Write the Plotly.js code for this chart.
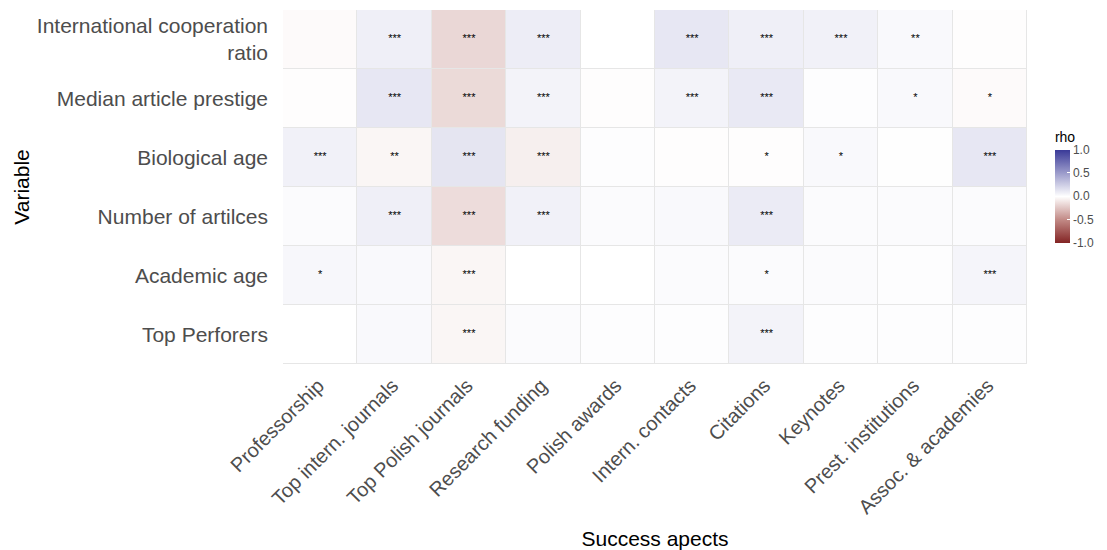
<!DOCTYPE html>
<html><head><meta charset="utf-8">
<script src="https://cdn.plot.ly/plotly-3.0.1.min.js"></script>
<style>html,body{margin:0;padding:0;background:#fff}#chart{width:1107px;height:550px}</style>
</head><body><div id="chart"></div>
<script>
const aspects = ["Professorship","Top intern. journals","Top Polish journals","Research funding","Polish awards","Intern. contacts","Citations","Keynotes","Prest. institutions","Assoc. & academies"];
const variables = ["Top Perforers","Academic age","Number of artilces","Biological age","Median article prestige","International cooperation<br>ratio"];
// rho values, rows in the same order as variables (bottom to top)
const rhoTopPerformers = [0.00, 0.03, -0.04, 0.02, 0.01, 0.01, 0.06, 0.01, 0.01, 0.01];
const rhoAcademicAge   = [0.04, 0.03, -0.04, 0.00, 0.00, 0.02, 0.02, 0.02, 0.01, 0.05];
const rhoArticles      = [0.02, 0.08, -0.15, 0.07, 0.02, 0.03, 0.10, 0.02, 0.02, 0.02];
const rhoBioAge        = [0.07, -0.04, 0.13, -0.07, 0.01, -0.01, -0.01, 0.03, 0.005, 0.12];
const rhoPrestige      = [-0.01, 0.12, -0.16, 0.06, -0.01, 0.06, 0.11, 0.01, 0.03, -0.02];
const rhoIntCoop       = [-0.02, 0.08, -0.17, 0.09, 0.00, 0.12, 0.08, 0.07, 0.03, -0.01];
const sigTopPerformers = ["","","***","","","","***","","",""];
const sigAcademicAge   = ["*","","***","","","","*","","","***"];
const sigArticles      = ["","***","***","***","","","***","","",""];
const sigBioAge        = ["***","**","***","***","","","*","*","","***"];
const sigPrestige      = ["","***","***","***","","***","***","","*","*"];
const sigIntCoop       = ["","***","***","***","","***","***","***","**",""];

const z = [rhoTopPerformers, rhoAcademicAge, rhoArticles, rhoBioAge, rhoPrestige, rhoIntCoop];
const sig = [sigTopPerformers, sigAcademicAge, sigArticles, sigBioAge, sigPrestige, sigIntCoop];

const tx = [], ty = [], tt = [];
for (let i = 0; i < variables.length; i++) for (let j = 0; j < aspects.length; j++) {
  if (sig[i][j]) { tx.push(aspects[j]); ty.push(variables[i]); tt.push(sig[i][j]); }
}

const heat = {
  type: 'heatmap', x: aspects, y: variables, z: z, zmin: -1, zmax: 1,
  xgap: 1, ygap: 1, hoverinfo: 'x+y+z',
  colorscale: [[0, '#832424'], [0.25, '#C28A86'], [0.5, '#FFFFFF'], [0.75, '#9C9CCB'], [1, '#3A3A98']],
  colorbar: {
    title: {text: 'rho', side: 'top', font: {family: 'Liberation Sans, Arial', size: 14, color: '#000'}},
    x: 1.0375, xanchor: 'left', y: 0.665, yanchor: 'top', xpad: 0, ypad: 0,
    len: 114, lenmode: 'pixels', thickness: 15, outlinewidth: 0,
    tickvals: [-1, -0.5, 0, 0.5, 1], ticktext: ['-1.0', '-0.5', '0.0', '0.5', '1.0'],
    ticks: 'inside', ticklen: 3, tickcolor: '#fff',
    tickfont: {family: 'Liberation Sans, Arial', size: 12, color: '#4d4d4d'}
  }
};
const stars = {
  type: 'scatter', mode: 'text', x: tx, y: ty, text: tt, hoverinfo: 'skip',
  textfont: {family: 'Liberation Sans, Arial', size: 11, color: '#000'}, showlegend: false
};

const layout = {
  width: 1107, height: 550,
  margin: {l: 283, r: 77, t: 10, b: 186},
  paper_bgcolor: '#fff', plot_bgcolor: '#e6e6e6',
  font: {family: 'Liberation Sans, Arial', color: '#4d4d4d'},
  xaxis: {
    type: 'category', tickangle: -45, showgrid: false, zeroline: false, ticks: '', ticklen: 0,
    ticklabelshift: -2, ticklabelstandoff: 5,
    tickfont: {size: 20, color: '#4d4d4d'},
    title: {text: 'Success apects', font: {size: 21, color: '#000'}, standoff: 14}
  },
  yaxis: {
    type: 'category', showgrid: false, zeroline: false, ticks: '', ticklabelstandoff: 14,
    tickfont: {size: 21, color: '#4d4d4d'},
    title: {text: 'Variable', font: {size: 21, color: '#000'}, standoff: 1}
  }
};
Plotly.newPlot('chart', [heat, stars], layout, {displayModeBar: false, staticPlot: true});
</script></body></html>
